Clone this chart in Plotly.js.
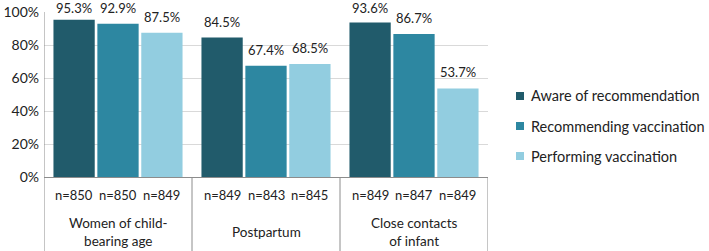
<!DOCTYPE html>
<html>
<head>
<meta charset="utf-8">
<script src="https://cdn.plot.ly/plotly-3.0.1.min.js"></script>
<style>html,body{margin:0;padding:0;background:#fff;}#chart{width:709px;height:251px;}</style>
</head>
<body>
<div id="chart"></div>
<script>
// ---- data ----
const groups = ["Women of child-<br>bearing age", "Postpartum", "Close contacts<br>of infant"];
const seriesNames = ["Aware of recommendation", "Recommending vaccination", "Performing vaccination"];
const aware = [95.3, 84.5, 93.6];
const recommending = [92.9, 67.4, 86.7];
const performing = [87.5, 68.5, 53.7];
const nAware = [850, 849, 849];
const nRecommending = [850, 843, 847];
const nPerforming = [849, 845, 849];
const yTicks = [0, 20, 40, 60, 80, 100];
const colors = ["#215b6b", "#2d87a1", "#92cde0"];

const values = [aware, recommending, performing];
const ns = [nAware, nRecommending, nPerforming];
const groupIdx = groups.map((g, i) => i);
const FONT = "Lato, 'Open Sans', sans-serif";
const bargap = 0.11;
const slot = (1 - bargap) / 3;

// plot geometry (px)
const W = 709, H = 251, ML = 44, MR = 221, MT = 12, MB = 74;
const PW = W - ML - MR, PH = H - MT - MB;
const px2x = p => (p - ML) / PW;
const py2y = p => (H - MB - p) / PH;

const traces = values.map((v, j) => ({
  type: "bar",
  name: seriesNames[j],
  x: groupIdx,
  y: v,
  marker: {color: colors[j]},
  showlegend: false,
  hoverinfo: "skip"
}));

const annotations = [];
values.forEach((v, j) => {
  v.forEach((val, i) => {
    const xpos = i + (j - 1) * slot;
    const topPx = (100 - val) / 100 * PH;          // distance of bar top below plot top
    const shift = Math.min(6, Math.max(0, MT + topPx - 18));
    annotations.push({x: xpos, y: val, xref: "x", yref: "y", text: val.toFixed(1) + "%",
      showarrow: false, yanchor: "bottom", yshift: shift, font: {family: FONT, size: 13, color: "#222"}});
    annotations.push({x: xpos, y: 0, xref: "x", yref: "paper", text: "n=" + ns[j][i],
      showarrow: false, yanchor: "middle", yshift: -18, font: {family: FONT, size: 13, color: "#222"}});
  });
});
groups.forEach((g, i) => {
  annotations.push({x: i, y: 0, xref: "x", yref: "paper", text: g, showarrow: false,
    yanchor: "middle", yshift: -55, font: {family: FONT, size: 13.5, color: "#222"}});
});

const shapes = [];
[-0.5, 0.5, 1.5, 2.5].forEach((xv, k) => {
  shapes.push({type: "line", xref: "x", yref: "paper", x0: xv, x1: xv,
    y0: k === 0 ? 1 : 0, y1: -0.6, line: {color: "#8c8c8c", width: 1}});
});

// legend (drawn manually so it sits where the reference has it)
const legendCenters = [96, 126, 156];
seriesNames.forEach((name, j) => {
  const cy = legendCenters[j];
  shapes.push({type: "rect", xref: "paper", yref: "paper",
    x0: px2x(516), x1: px2x(524), y0: py2y(cy + 4), y1: py2y(cy - 4),
    fillcolor: colors[j], line: {width: 0}});
  annotations.push({xref: "paper", yref: "paper", x: px2x(529), y: py2y(cy), text: name,
    showarrow: false, xanchor: "left", yanchor: "middle", font: {family: FONT, size: 14.5, color: "#222"}});
});

const layout = {
  width: W, height: H,
  margin: {l: ML, r: MR, t: MT, b: MB},
  paper_bgcolor: "#fff", plot_bgcolor: "#fff",
  barmode: "group", bargap: bargap, bargroupgap: 0.06,
  font: {family: FONT, color: "#222"},
  xaxis: {range: [-0.5, 2.5], showticklabels: false, showgrid: false, zeroline: false,
    showline: true, linecolor: "#8c8c8c", linewidth: 1, fixedrange: true},
  yaxis: {range: [0, 100], tickvals: yTicks, ticktext: yTicks.map(t => t + "%"),
    showgrid: true, gridcolor: "#d9d9d9", zeroline: false, showline: false,
    tickfont: {family: FONT, size: 14, color: "#222"}, ticklabelstandoff: 4, fixedrange: true},
  showlegend: false,
  annotations: annotations,
  shapes: shapes
};

Plotly.newPlot("chart", traces, layout, {displayModeBar: false, staticPlot: true});
</script>
</body>
</html>
